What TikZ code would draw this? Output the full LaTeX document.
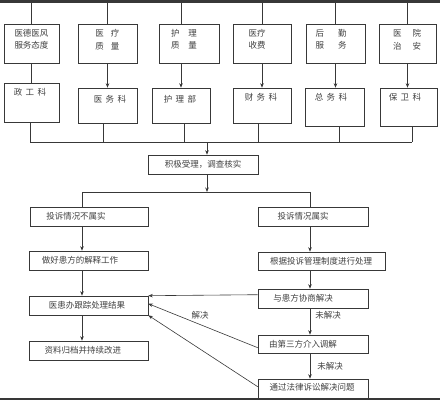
\documentclass[tikz,border=0pt]{standalone}
\usepackage{fontspec}
\newfontfamily\cjk{Noto Sans CJK SC}
\usetikzlibrary{arrows.meta,calc}
\definecolor{linec}{gray}{0.22}
\definecolor{txtc}{gray}{0.25}
\newcommand\mybox[8]{%
  \node[box, minimum width={#4-#2}, minimum height={#5-#3}] (#1) at ({(#2+#4)/2},{(#3+#5)/2}) {};
  \node[lbl] (#1t) at (#6,#7) {#8};}
\begin{document}
\begin{tikzpicture}[x=1pt,y=-1pt,
  box/.style={draw=linec, line width=0.6pt, inner sep=0pt, fill=white},
  lbl/.style={font=\cjk\fontsize{8.5}{12.5}\selectfont, text=txtc, inner sep=0pt, align=center},
  ln/.style={draw=linec, line width=0.6pt},
  arr/.style={ln, -{Stealth[length=4.5pt,width=3.5pt]}}]
\useasboundingbox (0,0) rectangle (440,400);
% top and bottom bars
\fill[linec] (0,0) rectangle (440,2.5);
\fill[linec] (0,397.5) rectangle (440,400);
% top row
\mybox{t1}{4}{24}{59}{63}{31.5}{39.5}{医德医风\\服务态度}
\mybox{t2}{78}{24}{137}{63}{107.5}{39.5}{医\hspace{7pt}疗\\质\hspace{7pt}量}
\mybox{t3}{159}{24}{219}{63}{184}{39.5}{护\hspace{9pt}理\\质\hspace{9pt}量}
\mybox{t4}{233}{24}{291}{63}{257}{39.5}{医疗\\收费}
\mybox{t5}{306}{24}{365}{63}{331}{39.5}{后\hspace{14pt}勤\\服\hspace{14pt}务}
\mybox{t6}{379}{24}{436}{63}{407}{39.5}{医\hspace{11pt}院\\治\hspace{11pt}安}
% second row
\mybox{s1}{4}{83}{59}{122}{30}{92}{政\hspace{3.5pt}工\hspace{3.5pt}科}
\mybox{s2}{78}{88}{137}{123}{110}{99}{医\hspace{3.5pt}务\hspace{3.5pt}科}
\mybox{s3}{152}{88}{210}{123}{180}{99}{护\hspace{3.5pt}理\hspace{3.5pt}部}
\mybox{s4}{233}{88}{291}{123}{261}{97}{财\hspace{3.5pt}务\hspace{3.5pt}科}
\mybox{s5}{305}{88}{364}{126}{331}{97}{总\hspace{3.5pt}务\hspace{3.5pt}科}
\mybox{s6}{380}{88}{437}{126}{405}{97}{保\hspace{3.5pt}卫\hspace{3.5pt}科}
% top row connections
\draw[ln] (t1.north) -- (t1.north |- 0,1);
\draw[ln] (t2.north) -- (t2.north |- 0,1);
\draw[ln] (s3.north |- t3.north) -- (s3.north |- 0,1);
\draw[ln] (t4.north) -- (t4.north |- 0,1);
\draw[ln] (t5.north) -- (t5.north |- 0,1);
\draw[ln] (t6.north) -- (t6.north |- 0,1);
\draw[ln] (t1.south) -- (t1.south |- s1.north);
\draw[arr] (t2.south) -- (t2.south |- s2.north);
\draw[arr] (s3.north |- t3.south) -- (s3.north);
\draw[arr] (t4.south) -- (t4.south |- s4.north);
\draw[arr] (t5.south) -- (t5.south |- s5.north);
\draw[arr] (t6.south) -- (t6.south |- s6.north);
% middle
\mybox{m}{148}{155}{258}{174}{203}{164.5}{积极受理，调查核实}
\coordinate (bus) at (207,142);
\coordinate (bus2) at (207,192);
\foreach \n/\dx in {s1/-1.5,s2/-4.5,s3/3,s4/-4,s5/4.5,s6/3.5}
  \draw[ln] ($(\n.south)+(\dx,0)$) -- ($(\n.south |- bus)+(\dx,0)$);
\draw[ln] ($(s1.south |- bus)+(-1.5,0)$) -- ($(s6.south |- bus)+(3.5,0)$);
\draw[arr] (bus) -- (bus |- m.north);
\draw[arr] (m.south -| bus2) -- (bus2);
% left column
\coordinate (lx) at (82,0);
\coordinate (rx) at (310,0);
\mybox{L1}{30}{207}{148}{226}{76}{216.5}{投诉情况不属实}
\mybox{L2}{29}{251}{148}{270}{80}{260.5}{做好患方的解释工作}
\mybox{L3}{29}{296}{148}{315}{87}{305.5}{医患办跟踪处理结果}
\mybox{L4}{29}{341}{148}{360}{83}{350.5}{资料归档并持续改进}
% right column
\mybox{R1}{258}{207}{368}{226}{303}{216.5}{投诉情况属实}
\mybox{R2}{258}{252}{385}{270}{321}{261}{根据投诉管理制度进行处理}
\mybox{R3}{258}{289}{368}{308}{303}{298.5}{与患方协商解决}
\mybox{R4}{258}{335}{368}{353}{303}{344}{由第三方介入调解}
\mybox{R5}{258}{379}{368}{399}{312}{387.5}{通过法律诉讼解决问题}
\fill[linec] (0,397.5) rectangle (440,400);
\draw[ln] (L1.north -| lx) -- (bus2 -| lx) -- (bus2 -| rx) -- (R1.north -| rx);
\draw[arr] (L1.south -| lx) -- (L2.north -| lx);
\draw[arr] (L2.south -| lx) -- (L3.north -| lx);
\draw[arr] (L3.south -| lx) -- (L4.north -| lx);
\draw[arr] (R1.south -| rx) -- (R2.north -| rx);
\draw[arr] (R2.south -| rx) -- (R3.north -| rx);
\draw[arr] (R3.south -| rx) -- (R4.north -| rx);
\draw[arr] (R4.south -| rx) -- (R5.north -| rx);
% cross arrows
\draw[arr] ($(R3.north west)+(0,6)$) -- (L3.north east);
\draw[arr] ($(R4.north west)+(0,13)$) -- ($(L3.north east)+(0,8)$);
\draw[arr] ($(R5.north west)+(0,8)$) -- (L3.south east);
% labels
\node[lbl] (l1) at (200,315) {解决};
\node[lbl] (l2) at (328,315) {未解决};
\node[lbl] (l3) at (330,366) {未解决};
\end{tikzpicture}
\end{document}
